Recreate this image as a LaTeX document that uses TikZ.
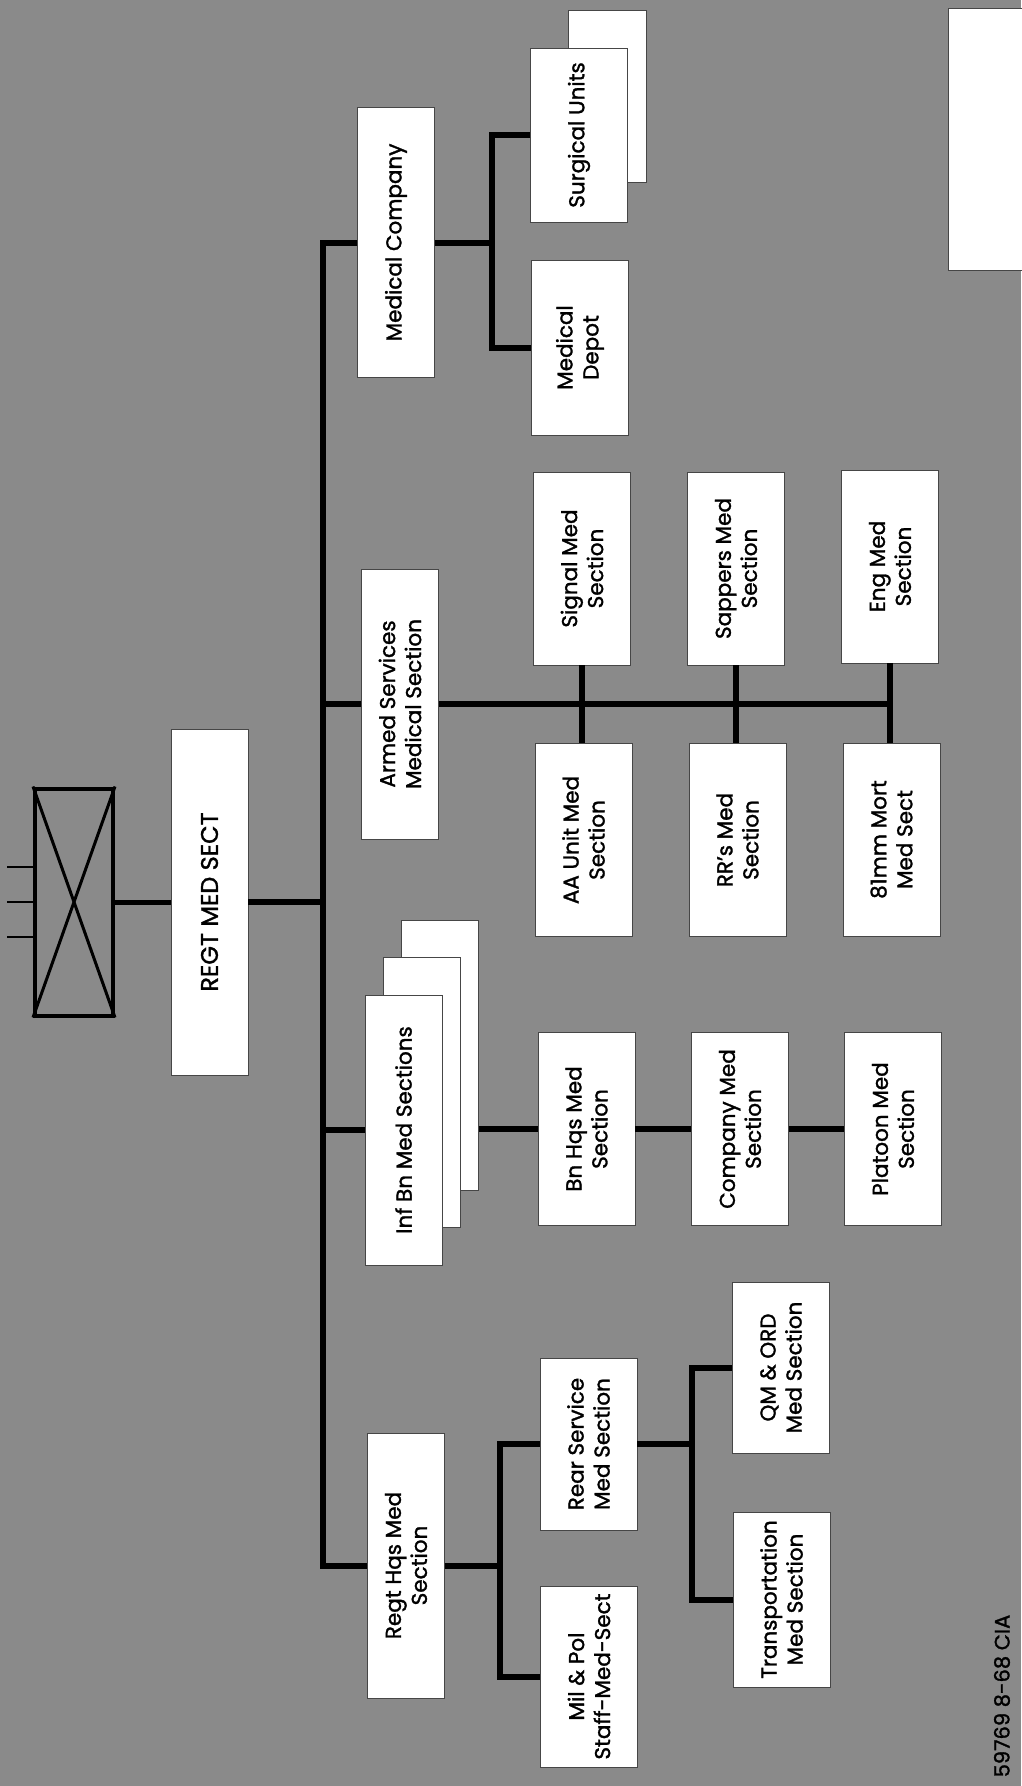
\documentclass[tikz,border=0pt]{standalone}
\usepackage{fontspec}
\setmainfont{Poppins}
\newfontfamily\chartfont{Poppins}[FakeBold=1.4]
\usepackage{tikz}
\usetikzlibrary{positioning, calc}
\usepackage{xcolor}
\definecolor{speckle}{RGB}{138,138,138}
\definecolor{boxedge}{RGB}{70,70,70}

\begin{document}
\begin{tikzpicture}[x=1pt, y=-1pt,
  unitbox/.style={rectangle, draw=black, line width=4pt, rotate=90, minimum width=227pt, minimum height=78pt, inner sep=0pt},
  card/.style={rectangle, fill=white, draw=boxedge, line width=0.6pt, rotate=90, align=center, inner sep=0pt, font=\chartfont\fontsize{21.5}{26}\selectfont},
  lvlone/.style={card, minimum width=270pt, minimum height=77pt},
  lvltwo/.style={card, minimum width=193pt, minimum height=97pt},
  wire/.style={line width=6pt, black}]
  \useasboundingbox (0,0) rectangle (1021,1786);
  \fill[speckle] (0,0) rectangle (1021,1786);
  \fill[white, draw=boxedge, line width=0.6pt] (948,8) rectangle (1030,270);
  % Unit symbol and regiment
  \node[unitbox] (unit) at (74,902) {};
  \draw[line width=3pt] (unit.north west) -- (unit.south east) (unit.north east) -- (unit.south west);
  \foreach \dy in {-35,0,35} {
    \draw[line width=2.2pt] ($(unit.north)+(0,\dy)$) -- ++(-26,0);
  }
  \node[card, minimum width=346pt, minimum height=77pt, font=\chartfont\fontsize{24}{26}\selectfont] (regt) at (209.5,902) {REGT MED SECT};
  % First level
  \node[lvlone] (medco) at (396,242.5) {Medical Company};
  \node[lvlone] (armed) at (400,704) {Armed Services\\Medical Section};
  \node[lvlone] (infc) at (440,1055) {};
  \node[lvlone] (infb) at (421.5,1092) {};
  \node[lvlone] (infbn) at (403.5,1130) {Inf Bn Med Sections};
  \node[lvlone, minimum width=265pt] (regthq) at (406,1565.5) {Regt Hqs Med\\Section};
  % Medical company units
  \node[lvltwo, minimum height=78pt, minimum width=172pt] (surgb) at (607,96) {};
  \node[lvltwo, minimum width=174pt] (surg) at (579,135) {Surgical Units};
  \node[lvltwo, minimum width=175pt] (depot) at (580,347.5) {Medical\\Depot};
  % Armed services sections
  \foreach \nm/\x/\y/\txt in {sig/582/568.5/{Signal Med\\Section}, sap/736/568.5/{Sappers Med\\Section}, eng/890/566.5/{Eng Med\\Section}, aa/583.5/840/{AA Unit Med\\Section}, rr/737.5/840/{RR’s Med\\Section}, mort/891.5/839.5/{81mm Mort\\Med Sect}} {
    \node[lvltwo] (\nm) at (\x,\y) {\txt};
  }
  % Battalion chain
  \node[lvltwo] (bnhq) at (586.5,1129) {Bn Hqs Med\\Section};
  \node[lvltwo] (coy) at (740,1129) {Company Med\\Section};
  \node[lvltwo] (plt) at (893,1129) {Platoon Med\\Section};
  % Regimental HQ units
  \node[lvltwo, minimum width=172pt] (rear) at (588.5,1444) {Rear Service\\Med Section};
  \node[lvltwo, minimum width=181pt] (milpol) at (589,1676.5) {Mil \& Pol\\Staff-Med-Sect};
  \node[lvltwo, minimum width=171pt] (qm) at (781,1367.5) {QM \& ORD\\Med Section};
  \node[lvltwo, minimum width=175pt] (trans) at (781.5,1599.5) {Transportation\\Med Section};
  \node[rotate=90, font=\chartfont\fontsize{21}{21}\selectfont] (mark) at (1002,1696) {59769 8-68 CIA};
  % Wires
  \coordinate (spine) at (323,0);
  \coordinate (mcbus) at (492,0);
  \coordinate (rhbus) at (500,0);
  \coordinate (rsbus) at (692,0);
  \draw[wire, line width=5pt] (unit.south) -- (regt.north);
  \draw[wire] (regt.south) -- (regt.south -| spine);
  \draw[wire] (medco.north) -- (medco.north -| spine) -- (regthq.north -| spine) -- (regthq.north);
  \draw[wire] (armed.north) -- (armed.north -| spine);
  \draw[wire] (infbn.north) -- (infbn.north -| spine);
  \draw[wire] (medco.south) -- (medco.south -| mcbus);
  \draw[wire] (surg.north) -- (surg.north -| mcbus) -- (depot.north -| mcbus) -- (depot.north);
  \draw[wire] (armed.south) -- (armed.south -| eng.west);
  \foreach \up/\dn in {sig/aa, sap/rr, eng/mort} {
    \draw[wire] (\up.west) -- (\up.west |- \dn.east);
  }
  \draw[wire] (bnhq.north -| infc.south) -- (bnhq.north);
  \draw[wire] (bnhq.south) -- (coy.north);
  \draw[wire] (coy.south) -- (plt.north);
  \draw[wire] (regthq.south) -- (regthq.south -| rhbus);
  \draw[wire] (rear.north) -- (rear.north -| rhbus) -- (milpol.north -| rhbus) -- (milpol.north);
  \draw[wire] (rear.south) -- (rear.south -| rsbus);
  \draw[wire] (qm.north) -- (qm.north -| rsbus) -- (trans.north -| rsbus) -- (trans.north);
\end{tikzpicture}
\end{document}
